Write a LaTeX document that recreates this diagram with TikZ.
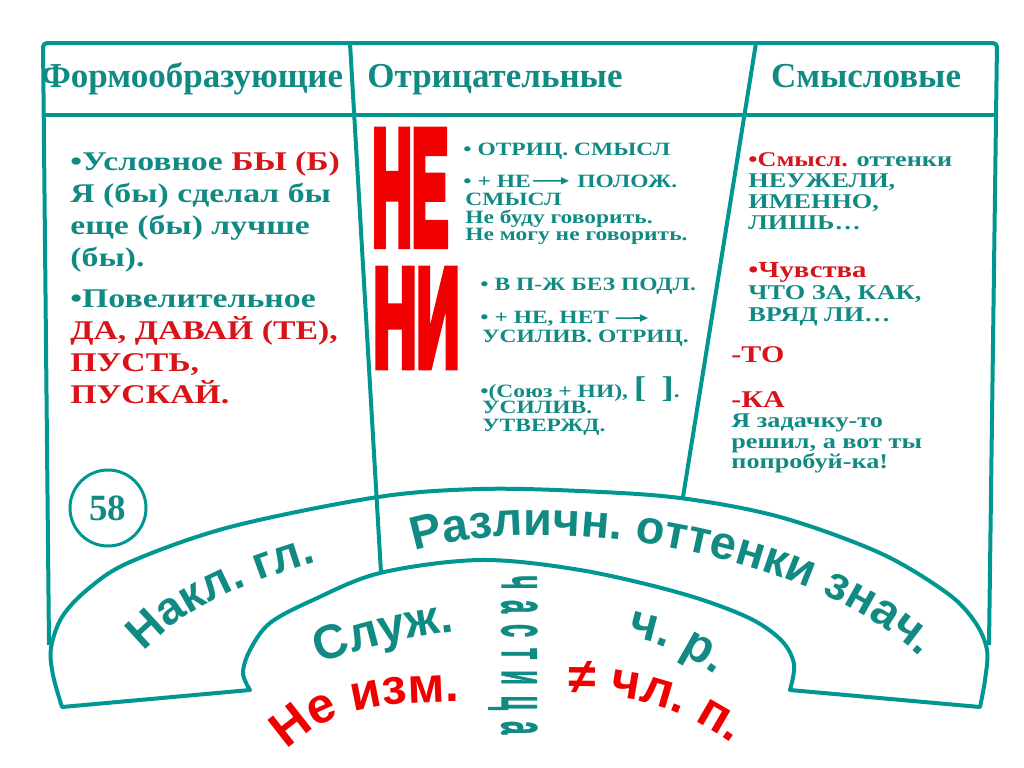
\documentclass[tikz,border=0pt]{standalone}
\usepackage{fontspec}
\setmainfont{Liberation Serif}
\newfontfamily\stretchserif[FakeStretch=1.25]{Liberation Serif}
\newfontfamily\bandsans{Liberation Sans}
\newfontfamily\spacedsans[LetterSpace=45, FakeBold=1.5]{Liberation Sans}
\newfontfamily\heavysans[FakeBold=7]{Liberation Sans}
\usetikzlibrary{arrows.meta,decorations.text}

\definecolor{sea}{RGB}{0,150,145}
\definecolor{seaink}{RGB}{18,138,132}
\definecolor{scarlet}{RGB}{240,0,0}
\definecolor{brick}{RGB}{214,20,26}

\newcommand{\bodysize}[2]{\stretchserif\bfseries\fontsize{#1}{#2}\selectfont}

\tikzset{
	frame/.style={draw=sea, line width=2pt, line join=round},
	heading/.style={text=seaink, anchor=base, inner sep=0pt,
			font=\bfseries\fontsize{17.5pt}{20pt}\selectfont},
	block/.style={text=seaink, align=left, inner sep=0pt},
	leftcol/.style={block, anchor=north west, font=\bodysize{13.5pt}{16pt}},
	midcol/.style={block, anchor=base west, font=\bodysize{9.4pt}{8.75pt}},
	rightcol/.style={block, anchor=north west, font=\bodysize{10.5pt}{10.5pt}},
	pointer/.style={draw=seaink, line width=0.8pt, -{Triangle[length=4pt, width=3.5pt]}},
	curved/.style={decorate, decoration={text along path, text align=center, text={#1}}}
}

\begin{document}
\begin{tikzpicture}[x=0.5pt, y=-0.5pt]
	\useasboundingbox (0,0) rectangle (1024,767);

	\draw [frame, rounded corners=2pt]	(49,645) -- (43,43) -- (997,43) -- (989,645);
	\draw [frame]	(43,115) -- (997,115);
	\draw [frame]	(350,43) -- (381,573);
	\draw [frame]	(756,43) -- (683,497);

	\draw [frame]	plot [smooth, tension=0.55] coordinates {(62,707) (53,675) (51,648) (62,617) (88,589) (130,562) (230,527) (378,497) (480,489) (580,491) (680,498) (780,517) (880,553) (947,593) (975,622) (987,650) (985,680) (980,707)}
					-- plot [smooth, tension=0.55] coordinates {(790,690) (794,664) (781,640) (747,617) (680,593) (580,570) (480,560) (380,573) (313,600) (270,623) (250,650) (243,673) (250,690)}
					-- cycle;

	\node [heading] (formo) at (192,87) {Формообразующие};
	\node [heading] (otric) at (495,87) {Отрицательные};
	\node [heading] (smysl) at (866,87) {Смысловые};

	\node [leftcol] (uslov) at (70,151)
		{•Условное \textcolor{brick}{БЫ (Б)}\\Я (бы) сделал бы\\еще (бы) лучше\\(бы).};
	\node [leftcol] (povel) at (70,289)
		{•Повелительное\\\textcolor{brick}{ДА, ДАВАЙ (ТЕ),}\\\textcolor{brick}{ПУСТЬ,}\\\textcolor{brick}{ПУСКАЙ.}};

	\node [text=scarlet, inner sep=0pt, anchor=north west] (ne) at (372,132)
		{\resizebox{38pt}{55.5pt}{\heavysans\bfseries НЕ}};
	\node [text=scarlet, inner sep=0pt, anchor=north west] (ni) at (373,270)
		{\resizebox{43pt}{47.5pt}{\heavysans\bfseries НИ}};

	\node [midcol] (otrsm) at (463,155) {• ОТРИЦ. СМЫСЛ};
	\node [midcol] (plusne) at (463,187) {• + НЕ};
	\node [midcol] (polozh) at (577,187) {ПОЛОЖ.};
	\draw [pointer, shorten <=1pt, shorten >=4pt] (plusne) -- (polozh);
	\node [midcol, anchor=north west] (govorit) at (465,193)
		{СМЫСЛ\\Не буду говорить.\\Не могу не говорить.};
	\node [midcol] (bezpodl) at (480,290) {• В П-Ж БЕЗ ПОДЛ.};
	\node [midcol] (nenet) at (480,323) {• + НЕ, НЕТ};
	\coordinate (netend) at (648,318);
	\draw [pointer, shorten <=3pt] (nenet) -- (netend);
	\node [midcol] (usilotr) at (482,342) {УСИЛИВ. ОТРИЦ.};
	\node [midcol] (soyuz) at (480,397)
		{•(Союз + НИ), {\fontsize{15pt}{15pt}\selectfont[\,\,\,]}.};
	\node [midcol, anchor=north west] (utverzhd) at (482,401) {УСИЛИВ.\\УТВЕРЖД.};

	\node [rightcol] (ottenki) at (748,152)
		{\textcolor{brick}{•Смысл.} оттенки\\НЕУЖЕЛИ,\\ИМЕННО,\\ЛИШЬ…};
	\node [rightcol, font=\bodysize{10.5pt}{11pt}] (chuvstva) at (748,262)
		{\textcolor{brick}{\fontsize{11.5pt}{11pt}\selectfont •Чувства}\\ЧТО ЗА, КАК,\\ВРЯД ЛИ…};
	\node [block, anchor=base west, text=brick, font=\bodysize{12pt}{12pt}] (to) at (731,362) {-ТО};
	\node [rightcol, font=\bodysize{10.5pt}{10.25pt}] (ka) at (731,391)
		{\textcolor{brick}{\fontsize{12pt}{12pt}\selectfont -КА}\\Я задачку-то\\решил, а вот ты\\попробуй-ка!};

	\node [circle, draw=sea, line width=1.5pt, minimum size=38pt, inner sep=0pt, text=seaink,
		font=\bfseries\fontsize{18.5pt}{18.5pt}\selectfont] (page) at (108,508) {58};

	\path [curved={|\bandsans\bfseries\fontsize{23pt}{23pt}\selectfont\color{seaink}|Накл. гл.}]
		(135,662) .. controls (175,610) and (250,580) .. (330,558);
	\path [curved={|\bandsans\bfseries\fontsize{23.5pt}{23.5pt}\selectfont\color{seaink}|Различн. оттенки знач.}]
		(395,558) .. controls (520,505) and (820,545) .. (935,672);
	\path [curved={|\bandsans\bfseries\fontsize{24pt}{24pt}\selectfont\color{seaink}|Служ.}]
		(310,668) .. controls (350,650) and (400,638) .. (465,630);
	\path [curved={|\bandsans\bfseries\fontsize{24pt}{24pt}\selectfont\color{seaink}|ч. р.}]
		(620,635) .. controls (655,640) and (690,655) .. (722,680);
	\path [curved={|\bandsans\bfseries\fontsize{25pt}{25pt}\selectfont\color{scarlet}|Не изм.}]
		(280,758) .. controls (315,715) and (370,700) .. (470,702);
	\path [curved={|\bandsans\bfseries\fontsize{25pt}{25pt}\selectfont\color{scarlet}|≠ чл. п.}]
		(555,695) .. controls (620,690) and (685,705) .. (742,752);

	\node [rotate=-90, inner sep=0pt, text=seaink] (chastica) at (513,655)
		{\scalebox{0.36}[1]{\spacedsans\bfseries\fontsize{33pt}{33pt}\selectfont частица}};
\end{tikzpicture}
\end{document}
